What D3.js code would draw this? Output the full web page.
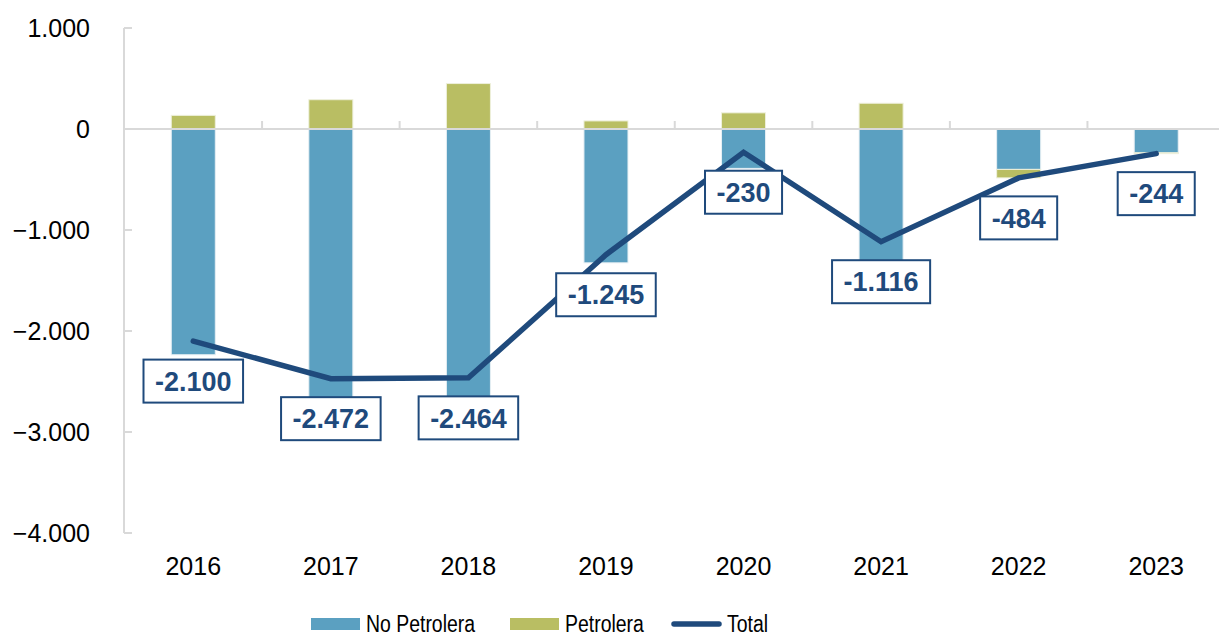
<!DOCTYPE html>
<html lang="es">
<head>
<meta charset="UTF-8">
<title>No Petrolera / Petrolera / Total</title>
<script src="https://cdn.jsdelivr.net/npm/d3@7"></script>
<style>
    body { margin: 0; background: #fff; }
    svg { display: block; font-family: Arial, "Liberation Sans", sans-serif; }
    .axis-line { stroke: #d9d9d9; stroke-width: 2; fill: none; }
    .tick-label { font-size: 25px; fill: #000; }
    .val-label { font-size: 27px; font-weight: bold; fill: #1f4a7c; }
    .legend text { font-size: 24px; fill: #000; }
</style>
</head>
<body>
<svg id="chart" width="1219" height="639"></svg>
<script>
    // data
    const years = ["2016", "2017", "2018", "2019", "2020", "2021", "2022", "2023"];
    const noPetrolera = [-2235, -2762, -2914, -1325, -390, -1371, -400, -236];
    const petrolera = [135, 290, 450, 80, 160, 255, -84, -8];
    const total = [-2100, -2472, -2464, -1245, -230, -1116, -484, -244];
    const totalLabels = ["-2.100", "-2.472", "-2.464", "-1.245", "-230", "-1.116", "-484", "-244"];
    const yTicks = [1000, 0, -1000, -2000, -3000, -4000];

    const colNP = "#5ba0c1", colP = "#b9be63", colTotal = "#1f4a7c";

    const svg = d3.select("#chart");

    const x = d3.scaleBand()
        .domain(years)
        .range([124.5, 1225])
        .paddingInner(0.68)
        .paddingOuter(0.34);

    const y = d3.scaleLinear().domain([-4000, 1000]).range([533, 28]);

    const fmt = v => d3.format(",")(v).replace(/,/g, ".");

    // y axis
    const axX = 124;
    svg.append("line").attr("class", "axis-line")
        .attr("x1", axX).attr("x2", axX)
        .attr("y1", y(1000)).attr("y2", y(-4000));
    svg.selectAll(".ytick").data(yTicks).enter().append("line")
        .attr("class", "axis-line")
        .attr("x1", axX).attr("x2", axX + 8)
        .attr("y1", d => y(d)).attr("y2", d => y(d));
    svg.selectAll(".ylab").data(yTicks).enter().append("text")
        .attr("class", "tick-label")
        .attr("x", 90).attr("y", d => y(d))
        .attr("dy", "0.36em")
        .attr("text-anchor", "end")
        .text(d => fmt(d));

    // bars (stacked, petrolera stacks below no petrolera when negative)
    const g = svg.append("g");
    years.forEach((yr, i) => {
        const np = noPetrolera[i], p = petrolera[i];
        const bx = x(yr), bw = x.bandwidth();
        g.append("rect")
            .attr("x", bx).attr("width", bw)
            .attr("y", y(Math.max(0, np))).attr("height", Math.abs(y(np) - y(0)))
            .attr("fill", colNP).attr("stroke", "#e6eff4").attr("stroke-width", 1);
        const base = p < 0 ? Math.min(0, np) : 0;
        const top = base + p;
        g.append("rect")
            .attr("x", bx).attr("width", bw)
            .attr("y", y(Math.max(base, top))).attr("height", Math.abs(y(top) - y(base)))
            .attr("fill", colP).attr("stroke", "#eef0dc").attr("stroke-width", 1);
    });

    // x axis at zero
    svg.append("line").attr("class", "axis-line")
        .attr("x1", axX).attr("x2", 1225)
        .attr("y1", y(0)).attr("y2", y(0));
    const bounds = years.map(yr => x(yr) - x.step() * x.paddingInner() / 2 + x.step());
    svg.selectAll(".xtick").data(bounds).enter().append("line")
        .attr("class", "axis-line")
        .attr("x1", d => d).attr("x2", d => d)
        .attr("y1", y(0)).attr("y2", y(0) - 8);
    svg.selectAll(".xlab").data(years).enter().append("text")
        .attr("class", "tick-label")
        .attr("font-size", "26px")
        .attr("x", d => x(d) + x.bandwidth() / 2)
        .attr("y", 575)
        .attr("text-anchor", "middle")
        .text(d => d);

    // total line
    const line = d3.line()
        .x((d, i) => x(years[i]) + x.bandwidth() / 2)
        .y(d => y(d));
    svg.append("path")
        .datum(total)
        .attr("d", line)
        .attr("fill", "none")
        .attr("stroke", colTotal)
        .attr("stroke-width", 5.5)
        .attr("stroke-linecap", "round")
        .attr("stroke-linejoin", "miter");

    // value labels
    const lab = svg.selectAll(".vl").data(total).enter().append("g")
        .attr("transform", (d, i) => `translate(${x(years[i]) + x.bandwidth() / 2},${y(d) + 40})`);
    const rects = lab.append("rect")
        .attr("fill", "#fff").attr("stroke", colTotal).attr("stroke-width", 2);
    const texts = lab.append("text")
        .attr("class", "val-label")
        .attr("text-anchor", "middle")
        .attr("dy", "0.36em")
        .text((d, i) => totalLabels[i]);
    texts.each(function (d, i) {
        const w = this.getComputedTextLength() + 23;
        d3.select(rects.nodes()[i])
            .attr("x", -w / 2).attr("y", -21.5)
            .attr("width", w).attr("height", 43);
    });

    // legend
    const legend = svg.append("g").attr("class", "legend");
    const items = [
        { name: "No Petrolera", type: "rect", color: colNP, x: 311 },
        { name: "Petrolera", type: "rect", color: colP, x: 510 },
        { name: "Total", type: "line", color: colTotal, x: 672 }
    ];
    const ly = 624;
    items.forEach(it => {
        if (it.type === "rect") {
            legend.append("rect").attr("x", it.x).attr("y", ly - 6)
                .attr("width", 49).attr("height", 12).attr("fill", it.color);
        } else {
            legend.append("line").attr("x1", it.x + 2).attr("x2", it.x + 47)
                .attr("y1", ly).attr("y2", ly)
                .attr("stroke", it.color).attr("stroke-width", 5.5)
                .attr("stroke-linecap", "round");
        }
        legend.append("text")
            .attr("transform", `translate(${it.x + 55},${ly + 8}) scale(0.81,1)`)
            .text(it.name);
    });
</script>
</body>
</html>
